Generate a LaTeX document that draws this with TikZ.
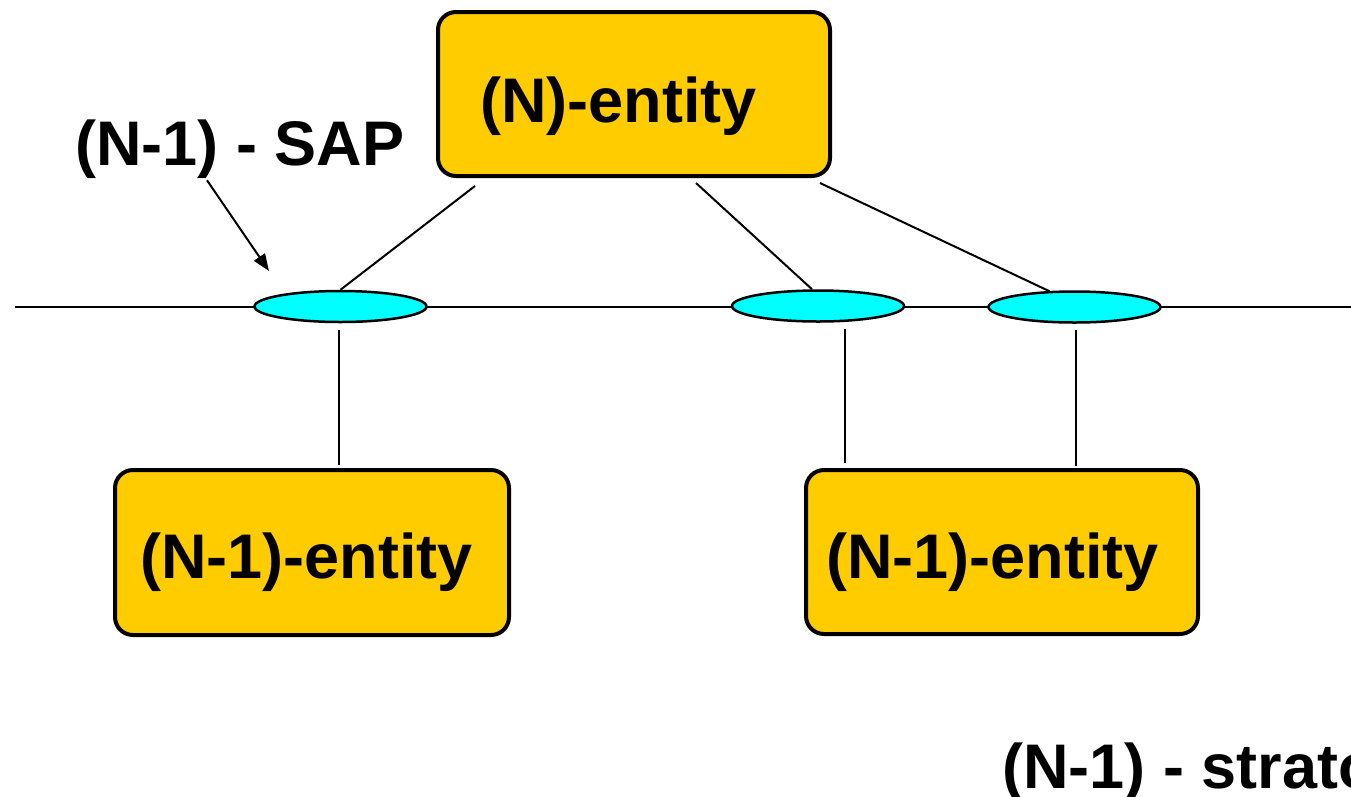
\documentclass[tikz,border=0pt]{standalone}
\usepackage{fontspec}
\setmainfont{Liberation Sans}
\usetikzlibrary{shapes.geometric,arrows.meta}
\definecolor{boxgold}{HTML}{FFCC00}
\definecolor{sapcyan}{HTML}{00FFFF}
\tikzset{
  entitybox/.style={draw=black, line width=4pt, fill=boxgold, rounded corners=18pt, inner sep=0pt},
  sapell/.style={ellipse, draw=black, line width=2.5pt, fill=sapcyan, minimum width=172pt, minimum height=31pt, inner sep=0pt},
  bigtext/.style={font=\fontsize{63}{70}\selectfont\bfseries, inner sep=0pt, anchor=base west},
  conn/.style={line width=2pt, draw=black},
}
\begin{document}
\begin{tikzpicture}[x=1pt,y=-1pt]
\useasboundingbox (0,0) rectangle (1351,796);
\clip (0,0) rectangle (1351,796);
\fill[white] (0,0) rectangle (1351,796);

% horizontal line (layer boundary)
\coordinate (hl) at (15,307);
\coordinate (hr) at (1351,307);
\draw[conn] (hl) -- (hr);

% entity boxes
\node[entitybox, minimum width=392pt, minimum height=164pt] (top) at (634,94) {};
\node[entitybox, minimum width=394pt, minimum height=165pt] (b1) at (312,552.5) {};
\node[entitybox, minimum width=392pt, minimum height=164pt] (b2) at (1002,552) {};

\node[bigtext] (toptxt) at (480,122) {(N)-entity};
\node[bigtext] (b1txt) at (140,578) {(N-1)-entity};
\node[bigtext] (b2txt) at (826,578) {(N-1)-entity};

% SAP ellipses
\node[sapell] (s1) at (340.5,306.5) {};
\node[sapell] (s2) at (818,306) {};
\node[sapell] (s3) at (1074.5,307) {};

% connectors top box -> SAPs
\draw[conn] ([xshift=-159pt,yshift=-8pt]top.south) -- (s1.north);
\draw[conn] ([xshift=62pt,yshift=-5pt]top.south) -- ([xshift=-6pt]s2.north);
\draw[conn] ([xshift=186pt,yshift=-5pt]top.south) -- ([xshift=-25pt,yshift=-1pt]s3.north);

% connectors SAPs -> lower boxes
\coordinate (v1) at ([xshift=-2pt,yshift=-7pt]s1.south);
\draw[conn] (v1) -- ([yshift=3pt]v1 |- b1.north);
\coordinate (v2) at ([xshift=27pt,yshift=-6pt]s2.south);
\draw[conn] (v2) -- ([yshift=5pt]v2 |- b2.north);
\coordinate (v3) at ([xshift=1.5pt,yshift=-6pt]s3.south);
\draw[conn] (v3) -- ([yshift=2pt]v3 |- b2.north);

% labels
\node[bigtext] (sap) at (75,165) {(N-1) - SAP};
\coordinate (saptip) at (269,271);
\draw[conn, -{Triangle[length=17pt,width=13pt]}] ([xshift=132pt,yshift=-2pt]sap.south west) -- (saptip);

\node[bigtext] (layer) at (1002,788) {(N-1) - strato};
\end{tikzpicture}
\end{document}
